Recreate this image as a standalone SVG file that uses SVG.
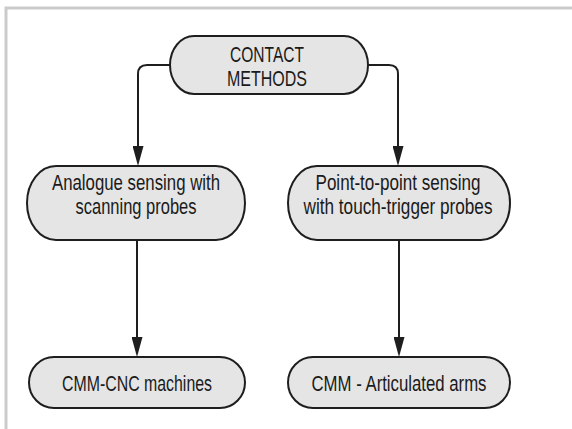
<svg xmlns="http://www.w3.org/2000/svg" width="572" height="429" viewBox="0 0 572 429">
<defs>
<style>
.node{fill:#e5e5e5;stroke:#1e1e1e;stroke-width:2}
.conn{fill:none;stroke:#1e1e1e;stroke-width:2}
.lbl{font-family:"Liberation Sans",Arial,sans-serif;font-size:22px;fill:#1a1a1a;text-anchor:middle}
.frame{stroke:#cbcbcb;stroke-width:3;fill:none}
</style>
<marker id="arr" markerUnits="userSpaceOnUse" viewBox="0 0 20 11" markerWidth="20" markerHeight="11" refX="16" refY="5.5" orient="auto">
<path d="M0,0 L20,5.5 L0,11 z" fill="#1e1e1e"/>
</marker>
</defs>
<rect width="572" height="429" fill="#ffffff"/>
<path class="frame" d="M6,429 V8 H572"/>
<g id="connectors">
<path class="conn" d="M170,65 H147 Q138,65 138,74 V162" marker-end="url(#arr)"/>
<path class="conn" d="M368,65 H389 Q398,65 398,74 V162" marker-end="url(#arr)"/>
<path class="conn" d="M137,240 V353" marker-end="url(#arr)"/>
<path class="conn" d="M399,240 V353" marker-end="url(#arr)"/>
</g>
<g id="contact-methods">
<rect class="node" x="170" y="36" width="198" height="58" rx="24" ry="29"/>
<text class="lbl" x="267" y="62" textLength="74" lengthAdjust="spacingAndGlyphs">CONTACT</text>
<text class="lbl" x="267" y="86" textLength="80" lengthAdjust="spacingAndGlyphs">METHODS</text>
</g>
<g id="analogue">
<rect class="node" x="27" y="166" width="218" height="74" rx="29" ry="37"/>
<text class="lbl" x="136" y="190" textLength="168" lengthAdjust="spacingAndGlyphs">Analogue sensing with</text>
<text class="lbl" x="136" y="214" textLength="121" lengthAdjust="spacingAndGlyphs">scanning probes</text>
</g>
<g id="point-to-point">
<rect class="node" x="288" y="166" width="222" height="74" rx="29" ry="37"/>
<text class="lbl" x="398" y="190" textLength="165" lengthAdjust="spacingAndGlyphs">Point-to-point sensing</text>
<text class="lbl" x="398" y="214" textLength="189" lengthAdjust="spacingAndGlyphs">with touch-trigger probes</text>
</g>
<g id="cmm-cnc">
<rect class="node" x="29" y="357" width="216" height="51" rx="25" ry="25.5"/>
<text class="lbl" x="137" y="391" textLength="150" lengthAdjust="spacingAndGlyphs">CMM-CNC machines</text>
</g>
<g id="cmm-arms">
<rect class="node" x="288" y="357" width="222" height="51" rx="25" ry="25.5"/>
<text class="lbl" x="399" y="391" textLength="175" lengthAdjust="spacingAndGlyphs">CMM - Articulated arms</text>
</g>
</svg>
